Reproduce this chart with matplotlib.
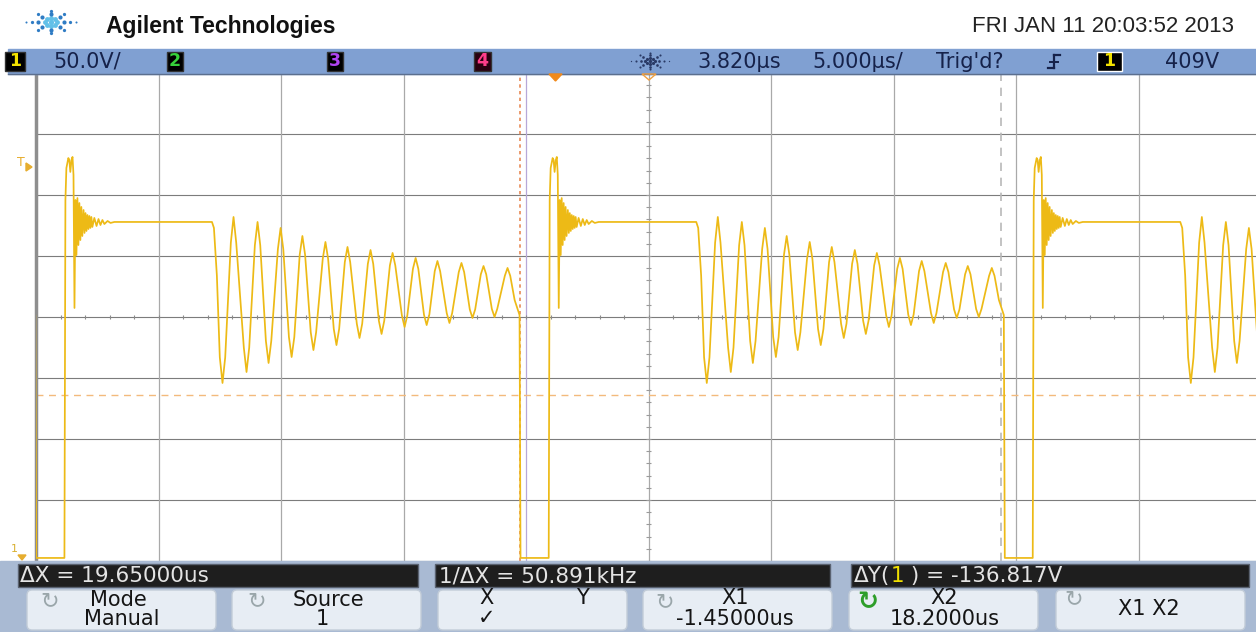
import numpy as np
import matplotlib
matplotlib.use('Agg')
import matplotlib.pyplot as plt
from matplotlib.patches import Rectangle, FancyBboxPatch, Polygon

# --- Datos -------------------------------------------------------------------
# flancos de subida de cada ciclo (us)
edges_us = [-39.78, -20.02, -0.26, 19.49]

# un ciclo relativo a su flanco de subida: tiempo (us) y tension (V)
# flanco + oscilacion rapida amortiguada + meseta
ring_dt = [0.00, 0.04, 0.08, 0.16, 0.20, 0.24, 0.29, 0.33, 0.37, 0.41,
           0.45, 0.49, 0.53, 0.57, 0.61, 0.65, 0.69, 0.73, 0.78, 0.82,
           0.86, 0.90, 0.94, 0.98, 1.02, 1.06, 1.10, 1.14, 1.22, 1.31,
           1.39, 1.47, 1.55, 1.63, 1.76, 1.88, 2.04, 6.02, 6.10]
ring_v = [86.5, 379.9, 406.1, 414.3, 412.7, 402.9, 412.7, 415.2, 400.4, 291.4,
          379.9, 334.8, 381.5, 343.0, 377.4, 347.1, 374.2, 350.4, 371.7, 352.9,
          369.2, 354.5, 367.6, 356.1, 366.8, 357.0, 366.0, 357.8, 365.2, 358.6,
          364.3, 359.4, 363.5, 360.2, 362.7, 361.1, 361.9, 361.9, 357.0]
# oscilacion lenta amortiguada hasta el corte
osc_dt = [6.22, 6.34, 6.45, 6.56, 6.79, 6.90, 7.01, 7.32, 7.43, 7.54,
          7.77, 7.88, 7.99, 8.22, 8.33, 8.44, 8.71, 8.82, 8.93, 9.16,
          9.27, 9.38, 9.60, 9.71, 9.82, 10.05, 10.16, 10.27, 10.54, 10.65,
          10.76, 10.99, 11.10, 11.21, 11.44, 11.55, 11.66, 11.93, 12.04, 12.15,
          12.38, 12.49, 12.60, 12.83, 12.94, 13.05, 13.28, 13.39, 13.50, 13.77,
          13.88, 13.99, 14.22, 14.33, 14.44, 14.67, 14.78, 14.89, 15.11, 15.22,
          15.33, 15.60, 15.71, 15.82, 16.09, 16.20, 16.31, 16.54, 16.65, 16.76,
          16.99, 17.10, 17.21, 17.44, 17.55, 17.66, 17.97, 18.08, 18.19, 18.37,
          18.57, 18.61]
osc_v = [318.0, 250.9, 229.9, 250.9, 344.9, 366.0, 344.9, 258.9, 238.9, 258.9,
         342.8, 361.9, 342.8, 264.4, 246.3, 264.4, 339.7, 357.0, 339.7, 267.6,
         251.2, 267.6, 335.0, 350.4, 335.0, 271.5, 256.9, 271.5, 331.6, 345.5,
         331.6, 274.2, 261.0, 274.2, 329.0, 341.4, 329.0, 278.5, 266.8, 278.5,
         327.6, 338.9, 327.6, 280.9, 270.1, 280.9, 326.3, 336.5, 326.3, 285.2,
         275.8, 285.2, 323.5, 332.4, 323.5, 286.0, 277.4, 286.0, 321.6, 329.9,
         321.6, 287.1, 279.1, 287.1, 320.8, 328.3, 320.8, 290.2, 283.2, 290.2,
         319.0, 325.8, 319.0, 290.6, 284.0, 290.6, 317.8, 324.2, 317.8, 297.9,
         285.6, 86.5]

us_div = 5.0
v_div = 50.0
delay_us = 3.82
v_center = 284.0
x1_us = -1.45
x2_us = 18.20
ycursor_v = 220.0

W, H = 1256, 632
TRACE = '#EDBA16'

fig = plt.figure(figsize=(W / 100, H / 100), dpi=100)
fig.patch.set_facecolor('white')

# --- Pantalla (tiempo / tension) ---------------------------------------------
ax = fig.add_axes([36 / W, 1 - 561 / H, (W - 36) / W, 488 / H], zorder=2)
ax.set_xlim(delay_us - 5 * us_div, 28.6)
ax.set_ylim(v_center - 4 * v_div, v_center + 4 * v_div)
ax.set_xticks([]), ax.set_yticks([])
for s in ['top', 'right', 'bottom']:
    ax.spines[s].set_visible(False)
ax.spines['left'].set_color('#8e8e8e')
ax.spines['left'].set_linewidth(2.5)

for k in range(-4, 5):
    ax.axhline(v_center + k * v_div, color='#7c7c7c', lw=0.8, zorder=1)
for k in range(-5, 6):
    c = '#b7a8d8' if k == -1 else '#a9a9a9'
    ax.axvline(delay_us + k * us_div, color=c, lw=0.9, zorder=1)

# marcas de subdivision en los ejes centrales
sub_t = delay_us + np.arange(-25, 26) * 1.0
ax.vlines(sub_t, v_center - 2.0, v_center + 2.0, color='#8a8a8a', lw=0.8, zorder=1)
sub_v = v_center + np.arange(-20, 21) * 10.0
ax.hlines(sub_v, delay_us - 0.1, delay_us + 0.1, color='#9a9a9a', lw=0.8, zorder=1)

# cursores
ax.axhline(ycursor_v, color='#f3ba7c', lw=1.0, ls=(0, (5, 4)), zorder=2)
ax.axvline(x1_us, color='#e88a55', lw=1.2, ls=(0, (2, 2)), zorder=2)
ax.axvline(x2_us, color='#b9b9b9', lw=1.2, ls=(0, (5, 4)), zorder=2)

# traza
cycle_dt = np.array(ring_dt + osc_dt)
cycle_v = np.array(ring_v + osc_v)
t = np.concatenate([e + cycle_dt for e in edges_us])
v = np.concatenate([cycle_v for e in edges_us])
ax.plot(t, v, color=TRACE, lw=1.25, zorder=3, solid_joinstyle='round')

# --- Marco del osciloscopio (coordenadas en pixeles) -------------------------
ov = fig.add_axes([0, 0, 1, 1], zorder=5)
ov.set_xlim(0, W), ov.set_ylim(H, 0)
ov.axis('off')
ov.patch.set_alpha(0)


def chispa(cx, cy, r, color, inner, size):
    for ang in range(0, 360, 45):
        a = np.radians(ang)
        n = 4 if ang in (0, 180) else 3
        for i in range(1, n + 1):
            d = r * i / 3.0
            c = inner if i == 1 else color
            ov.scatter(cx + d * np.cos(a), cy + 0.6 * d * np.sin(a), s=size * (1.3 - 0.28 * i),
                       color=c, lw=0)
    ov.scatter(cx, cy, s=size * 1.2, color=inner, lw=0)


# cabecera
chispa(51, 22, 19, '#2f7cc4', '#62c0e8', 12)
ov.text(106, 27, 'Agilent Technologies', fontsize=16.5, fontweight='bold',
        family='Liberation Sans', va='center', ha='left', color='#111111')
ov.text(1234, 27, 'FRI JAN 11 20:03:52 2013', fontsize=16,
        family='Liberation Sans', va='center', ha='right', color='#222222')

# barra azul superior
ov.add_patch(Rectangle((8, 49), W - 8, 25, color='#80a0d2', zorder=1))
ov.plot([8, W], [73.5, 73.5], color='#5c6f8e', lw=1)


def caja_canal(x0, x1, txt, fg, bg='black', ec='#333333'):
    ov.add_patch(Rectangle((x0, 52), x1 - x0, 19, facecolor=bg, edgecolor=ec, lw=1, zorder=2))
    ov.text((x0 + x1) / 2, 61.5, txt, color=fg, fontsize=12.5, fontweight='bold',
            ha='center', va='center', zorder=3)


BAR = '#16224a'
BFS = 15
caja_canal(5, 25, '1', '#f2e200')
caja_canal(167, 183, '2', '#36d23a')
caja_canal(327, 343, '3', '#b044f0')
caja_canal(474, 491, '4', '#ff3d8a', bg='#2a0010')
caja_canal(1097, 1122, '1', '#f2e200', ec='white')
ov.text(53, 61.5, '50.0V/', fontsize=BFS, color=BAR, va='center', ha='left')
chispa(650, 61, 14, '#2a3a66', '#2a3a66', 5)
ov.text(697, 61.5, '3.820µs', fontsize=BFS, color=BAR, va='center', ha='left')
ov.text(812, 61.5, '5.000µs/', fontsize=BFS, color=BAR, va='center', ha='left')
ov.text(936, 61.5, "Trig'd?", fontsize=BFS, color=BAR, va='center', ha='left')
ov.text(1165, 61.5, '409V', fontsize=BFS, color=BAR, va='center', ha='left')
ov.plot([1054, 1060], [55, 55], color=BAR, lw=1.6)
ov.plot([1054, 1054], [55, 68], color=BAR, lw=1.6)
ov.plot([1048, 1054], [68, 68], color=BAR, lw=1.6)
ov.plot([1050, 1058], [61.5, 61.5], color=BAR, lw=1.4)

# marcadores de disparo y retardo
ov.add_patch(Polygon([(549, 74), (562, 74), (555.5, 81)], color='#f08a1c', zorder=6))
ov.add_patch(Polygon([(642, 74), (656, 74), (649, 80)], facecolor='none',
                     edgecolor='#f0a040', lw=1, zorder=6))
ov.text(21, 162, 'T', color='#e6ad2e', fontsize=9, va='center', ha='center')
ov.add_patch(Polygon([(26, 163), (26, 171), (32, 167)], color='#e6ad2e'))
ov.text(14, 549, '1', color='#d9b030', fontsize=8, va='center', ha='center')
ov.add_patch(Polygon([(18, 555), (26, 555), (22, 560)], color='#e6ad2e'))

# zona inferior
ov.add_patch(Rectangle((0, 561), W, H - 561, color='#a9bad3', zorder=0))

LECT = '#e4e4e4'
RFS = 15.5
for (x0, x1) in [(18, 418), (435, 830), (851, 1249)]:
    ov.add_patch(Rectangle((x0, 564), x1 - x0, 23, facecolor='#1e1e1e',
                           edgecolor='#5a6270', lw=1, zorder=1))
ov.text(20, 576, 'ΔX = 19.65000us', fontsize=RFS, color=LECT, va='center', ha='left')
ov.text(439, 576, '1/ΔX = 50.891kHz', fontsize=RFS, color=LECT, va='center', ha='left')
t1 = ov.text(854, 576, 'ΔY(', fontsize=RFS, color=LECT, va='center', ha='left')
t2 = ov.annotate('1', xy=(1, 0), xycoords=t1, fontsize=RFS, color='#f0e000',
                 va='bottom', ha='left')
ov.annotate(' ) = -136.817V', xy=(1, 0), xycoords=t2, fontsize=RFS, color=LECT,
            va='bottom', ha='left')

# teclas
teclas_x = [27, 232, 438, 643, 849, 1056]
for x0 in teclas_x:
    ov.add_patch(FancyBboxPatch((x0, 590), 189, 40, boxstyle='round,pad=0,rounding_size=5',
                                facecolor='#e7edf4', edgecolor='#c2ccd8', lw=1, zorder=1))

TK = '#151515'
ICON = '#9aa6aa'
KFS = 15
ov.text(50, 601, '↻', fontsize=16, color=ICON, va='center', ha='center')
ov.text(118, 600, 'Mode', fontsize=KFS, color=TK, va='center', ha='center')
ov.text(122, 619, 'Manual', fontsize=KFS, color=TK, va='center', ha='center')
ov.text(257, 601, '↻', fontsize=16, color=ICON, va='center', ha='center')
ov.text(328, 600, 'Source', fontsize=KFS, color=TK, va='center', ha='center')
ov.text(322, 619, '1', fontsize=KFS, color=TK, va='center', ha='center')
ov.text(487, 598, 'X', fontsize=KFS, color=TK, va='center', ha='center')
ov.text(582, 598, 'Y', fontsize=KFS, color=TK, va='center', ha='center')
ov.text(487, 618, '✓', fontsize=KFS, color=TK, va='center', ha='center')
ov.text(665, 602, '↻', fontsize=16, color=ICON, va='center', ha='center')
ov.text(735, 598, 'X1', fontsize=KFS, color=TK, va='center', ha='center')
ov.text(735, 619, '-1.45000us', fontsize=KFS, color=TK, va='center', ha='center')
ov.text(868, 602, '↻', fontsize=18, color='#2e9e2a', fontweight='bold', va='center', ha='center')
ov.text(944, 598, 'X2', fontsize=KFS, color=TK, va='center', ha='center')
ov.text(945, 619, '18.2000us', fontsize=KFS, color=TK, va='center', ha='center')
ov.text(1074, 599, '↻', fontsize=16, color=ICON, va='center', ha='center')
ov.text(1149, 609, 'X1 X2', fontsize=KFS, color=TK, va='center', ha='center')

fig.savefig('out.png', dpi=100)
